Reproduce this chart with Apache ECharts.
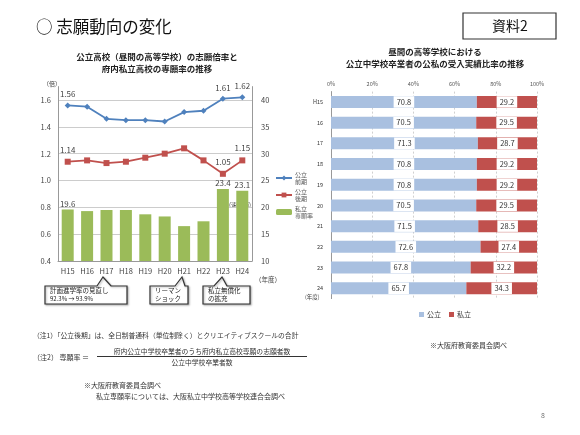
<!DOCTYPE html>
<html>
<head>
<meta charset="utf-8">
<script src="https://cdn.jsdelivr.net/npm/echarts@6/dist/echarts.min.js"></script>
<style>
html,body{margin:0;padding:0;background:#fff;}
#chart{width:580px;height:435px;}
</style>
</head>
<body>
<div id="chart"></div>
<script>
// left chart data
var years = ['H15', 'H16', 'H17', 'H18', 'H19', 'H20', 'H21', 'H22', 'H23', 'H24'];
var koritsuZenki = [1.56, 1.55, 1.46, 1.45, 1.45, 1.44, 1.51, 1.52, 1.61, 1.62];
var koritsuKoki = [1.14, 1.15, 1.13, 1.14, 1.17, 1.20, 1.24, 1.15, 1.05, 1.15];
var shiritsuSengan = [19.6, 19.3, 19.5, 19.5, 18.7, 18.3, 16.5, 17.4, 23.4, 23.1];
var leftTicks = [0.4, 0.6, 0.8, 1.0, 1.2, 1.4, 1.6];
var rightTicks = [10, 15, 20, 25, 30, 35, 40];

// right chart data
var ukeireYears = ['H15', '16', '17', '18', '19', '20', '21', '22', '23', '24'];
var ukeireKoritsu = [70.8, 70.5, 71.3, 70.8, 70.8, 70.5, 71.5, 72.6, 67.8, 65.7];
var ukeireShiritsu = [29.2, 29.5, 28.7, 29.2, 29.2, 29.5, 28.5, 27.4, 32.2, 34.3];
var pctTicks = [0, 20, 40, 60, 80, 100];

var zenkiLabelAt = [0, 8, 9];
var kokiLabelAt = [0, 8, 9];
var senganLabelAt = [0, 8, 9];

var FONT = '"Noto Sans CJK JP", "Noto Sans", sans-serif';
var BLUE = '#4F81BD', RED = '#C0504D', GREEN = '#9BBB59';

function withLabels(values, idx, fmt) {
  return values.map(function (v, i) {
    return { value: v, label: { show: idx.indexOf(i) >= 0, formatter: fmt ? fmt(v) : String(v) } };
  });
}

function inTicks(list, v) {
  return list.some(function (t) { return Math.abs(t - v) < 1e-6; });
}

function bubble(x0, y0, x1, y1, b1, ax, ay, b2) {
  return {
    type: 'polygon',
    shape: { points: [[x0, y0], [b1, y0], [ax, ay], [b2, y0], [x1, y0], [x1, y1], [x0, y1]] },
    style: { fill: '#fff', stroke: '#333', lineWidth: 1.2, shadowColor: 'rgba(0,0,0,0.3)', shadowBlur: 2, shadowOffsetX: 1, shadowOffsetY: 1 }
  };
}

// text anchored at (x, y): y is the vertical middle of the line
function txt(x, y, s, size, extra) {
  var st = { text: s, fontSize: size, fontFamily: FONT, fill: '#222', verticalAlign: 'middle', align: 'left' };
  for (var k in extra) st[k] = extra[k];
  return { type: 'text', x: x, y: y, style: st };
}

var chart = echarts.init(document.getElementById('chart'));

var option = {
  backgroundColor: '#fff',
  animation: false,
  textStyle: { fontFamily: FONT },
  grid: [
    { left: 58, top: 86.6, width: 194, height: 174.4 },
    { left: 331, top: 91.6, width: 206, height: 207 }
  ],
  legend: [
    {
      orient: 'vertical', left: 270, top: 166, itemGap: 3, itemWidth: 16, itemHeight: 6,
      data: ['公立前期', '公立後期', '私立専願率'],
      formatter: function (n) { return n.slice(0, 2) + '\n' + n.slice(2); },
      textStyle: { fontSize: 6, lineHeight: 7, color: '#555', padding: [0, 0, 0, -2] }
    },
    {
      orient: 'horizontal', left: 414, top: 306, itemGap: 8, itemWidth: 5, itemHeight: 5,
      data: ['公立', '私立'], icon: 'rect',
      textStyle: { fontSize: 7, color: '#333', padding: [0, 0, 0, -2] }
    }
  ],
  xAxis: [
    {
      type: 'category', gridIndex: 0, data: years,
      axisLine: { lineStyle: { color: '#999' } },
      axisTick: { show: false },
      axisLabel: { fontSize: 7.5, color: '#444', margin: 6 }
    },
    {
      type: 'value', gridIndex: 1, position: 'top', min: 0, max: 100, interval: 20,
      axisLine: { show: false }, axisTick: { show: false },
      axisLabel: {
        fontSize: 5.5, color: '#555', margin: 5,
        formatter: function (v) { return inTicks(pctTicks, v) ? v + '%' : ''; }
      },
      splitLine: { lineStyle: { color: '#d0d0d0', type: [2, 2] } }
    }
  ],
  yAxis: [
    {
      type: 'value', gridIndex: 0, min: 0.4, max: 1.7, interval: 0.2,
      axisLine: { show: true, lineStyle: { color: '#999' } },
      axisTick: { show: false },
      axisLabel: {
        fontSize: 7.5, color: '#444', margin: 7,
        formatter: function (v) { return inTicks(leftTicks, v) ? v.toFixed(1) : ''; }
      },
      splitLine: { lineStyle: { color: ['#ccc', '#ccc', '#ccc', '#ccc', '#ccc', '#ccc', '#ccc', 'rgba(0,0,0,0)'] } }
    },
    {
      type: 'value', gridIndex: 0, position: 'right', min: 10, max: 42.5, interval: 5,
      axisLine: { show: true, lineStyle: { color: '#999' } },
      axisTick: { show: false },
      axisLabel: {
        fontSize: 7.5, color: '#444', margin: 9,
        formatter: function (v) { return inTicks(rightTicks, v) ? String(v) : ''; }
      },
      splitLine: { show: false }
    },
    {
      type: 'category', gridIndex: 1, data: ukeireYears, inverse: true,
      axisLine: { show: true, lineStyle: { color: '#999' } },
      axisTick: { show: false },
      axisLabel: { fontSize: 5.5, color: '#333', margin: 8 }
    }
  ],
  series: [
    {
      name: '私立専願率', type: 'bar', xAxisIndex: 0, yAxisIndex: 1, barWidth: 12,
      itemStyle: { color: GREEN },
      label: { position: 'top', fontSize: 8, color: '#444', distance: 2 },
      data: withLabels(shiritsuSengan, senganLabelAt)
    },
    {
      name: '公立前期', type: 'line', xAxisIndex: 0, yAxisIndex: 0,
      symbol: 'diamond', symbolSize: 6, clip: false,
      lineStyle: { color: BLUE, width: 1.8 }, itemStyle: { color: BLUE },
      label: { position: 'top', fontSize: 8, color: '#444', distance: 4 },
      data: withLabels(koritsuZenki, zenkiLabelAt, function (v) { return v.toFixed(2); })
    },
    {
      name: '公立後期', type: 'line', xAxisIndex: 0, yAxisIndex: 0,
      symbol: 'rect', symbolSize: 6, clip: false,
      lineStyle: { color: RED, width: 1.8 }, itemStyle: { color: RED },
      label: { position: 'top', fontSize: 8, color: '#444', distance: 5 },
      data: withLabels(koritsuKoki, kokiLabelAt, function (v) { return v.toFixed(2); })
    },
    {
      name: '公立', type: 'bar', xAxisIndex: 1, yAxisIndex: 2, stack: 'ratio', barWidth: 12,
      itemStyle: { color: '#A9C0E0' },
      label: {
        show: true, position: 'inside', fontSize: 7.5, color: '#333',
        backgroundColor: '#fff', padding: [2, 3],
        formatter: function (p) { return p.value.toFixed(1); }
      },
      data: ukeireKoritsu
    },
    {
      name: '私立', type: 'bar', xAxisIndex: 1, yAxisIndex: 2, stack: 'ratio', barWidth: 12,
      itemStyle: { color: '#C0504D' },
      label: {
        show: true, position: 'inside', fontSize: 7.5, color: '#333',
        backgroundColor: '#fff', padding: [2, 3],
        formatter: function (p) { return p.value.toFixed(1); }
      },
      data: ukeireShiritsu
    }
  ],
  graphic: [
    // page header
    txt(36, 27, '○ 志願動向の変化', 16.5, { fill: '#111' }),
    {
      type: 'rect', shape: { x: 463, y: 13, width: 93, height: 26 },
      style: { fill: '#fff', stroke: '#333', lineWidth: 1.2 }
    },
    txt(510, 26, '資料2', 14, { fill: '#111', align: 'center' }),
    // left chart title
    txt(157, 57, '公立高校（昼間の高等学校）の志願倍率と', 8.5, { fontWeight: 'bold', align: 'center' }),
    txt(157, 69, '府内私立高校の専願率の推移', 8.5, { fontWeight: 'bold', align: 'center' }),
    txt(43, 84, '（倍）', 6, { fill: '#444' }),
    txt(229, 205, '(速報値)', 6, { fill: '#444' }),
    txt(255, 280, '（年度）', 6.5, { fill: '#444' }),
    // callouts
    bubble(45, 286, 127, 304, 97, 103, 277, 111),
    txt(50, 291, '計画進学率の見直し', 6.5),
    txt(50, 298.5, '92.3% → 93.9%', 6),
    bubble(150, 286, 188, 304, 175, 182, 277, 185),
    txt(155, 291, 'リーマン', 6.5),
    txt(155, 298.5, 'ショック', 6.5),
    bubble(203, 286, 250, 304, 214, 222, 277, 227),
    txt(208, 291, '私立無償化', 6.5),
    txt(208, 298.5, 'の拡充', 6.5),
    // right chart title
    txt(435, 52, '昼間の高等学校における', 8.5, { fontWeight: 'bold', align: 'center' }),
    txt(435, 64, '公立中学校卒業者の公私の受入実績比率の推移', 8.5, { fontWeight: 'bold', align: 'center' }),
    txt(305, 297, '(年度)', 5.5, { fill: '#444' }),
    txt(430, 345, '※大阪府教育委員会調べ', 7, { fill: '#333' }),
    // notes
    txt(33, 335, '（注1）「公立後期」は、全日制普通科（単位制除く）とクリエイティブスクールの合計', 6.8, { fill: '#333' }),
    txt(33, 357, '（注2） 専願率 ＝', 7, { fill: '#333' }),
    txt(202, 351, '府内公立中学校卒業者のうち府内私立高校専願の志願者数', 6.8, { fill: '#333', align: 'center' }),
    { type: 'line', shape: { x1: 97, y1: 356.5, x2: 307, y2: 356.5 }, style: { stroke: '#333', lineWidth: 1 } },
    txt(202, 362, '公立中学校卒業者数', 6.8, { fill: '#333', align: 'center' }),
    txt(84, 385, '※大阪府教育委員会調べ', 7, { fill: '#333' }),
    txt(96, 396, '私立専願率については、大阪私立中学校高等学校連合会調べ', 7, { fill: '#333' }),
    txt(541, 415, '8', 7, { fill: '#777' })
  ]
};

chart.setOption(option);
</script>
</body>
</html>
